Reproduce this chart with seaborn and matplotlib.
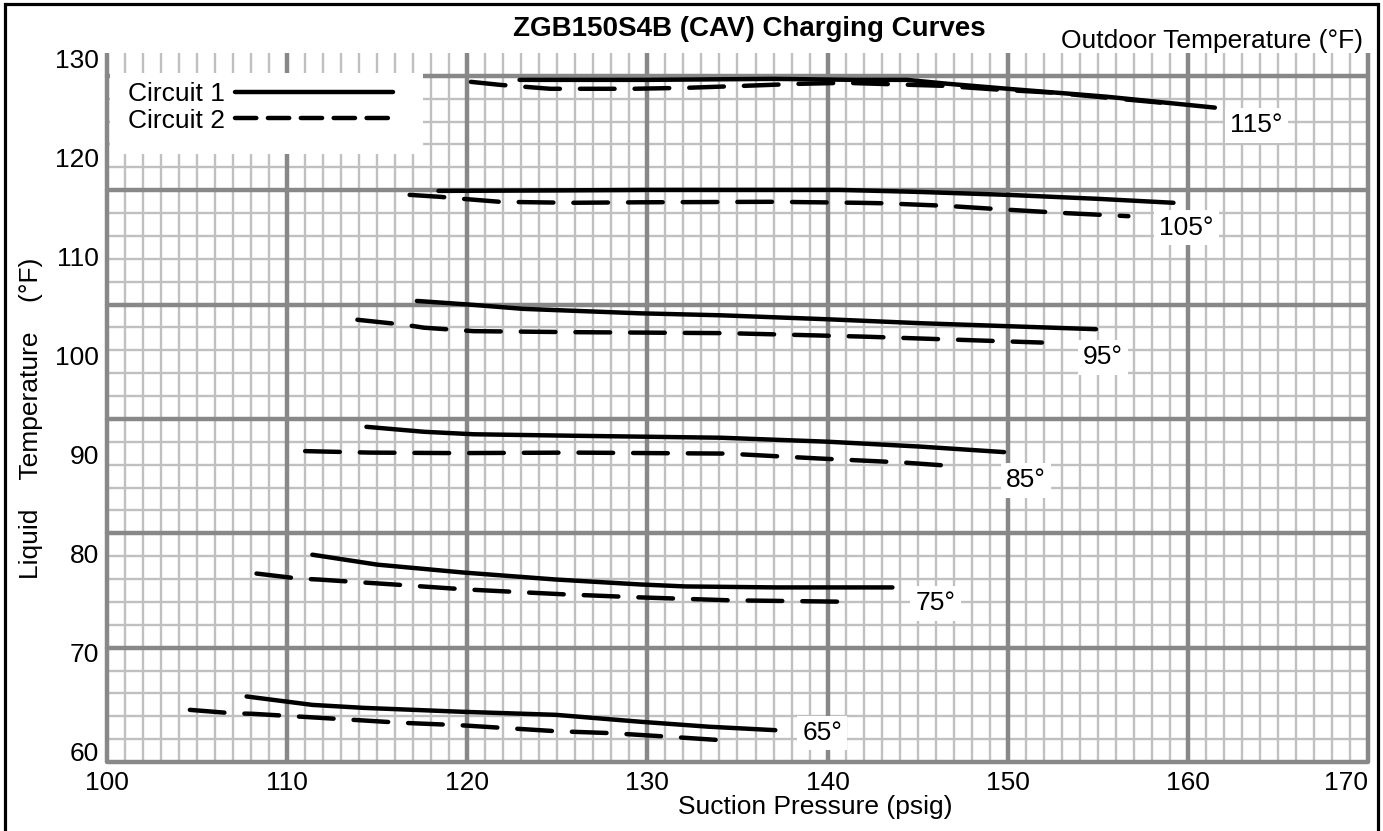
import matplotlib
matplotlib.use("Agg")
import matplotlib.pyplot as plt
from matplotlib.lines import Line2D
from matplotlib.patches import Rectangle
import seaborn as sns

# outdoor temperature for each pair of curves
outdoor = [115, 105, 95, 85, 75, 65]

# suction pressure (psig) / liquid temperature (F)
p115_c1 = [122.9, 130.0, 137.0, 141.5, 144.4, 146.7, 150.0, 155.5, 161.5]
t115_c1 = [127.8, 127.8, 127.9, 127.8, 127.8, 127.4, 126.9, 126.1, 125.0]
p115_c2 = [120.2, 121.8, 124.6, 127.2, 129.2, 132.2, 135.4, 138.4, 141.0, 146.4, 149.6, 152.6, 155.5, 158.5]
t115_c2 = [127.6, 127.3, 126.9, 126.9, 126.9, 127.0, 127.2, 127.4, 127.5, 127.2, 126.8, 126.5, 126.0, 125.5]

p105_c1 = [118.4, 125.0, 130.0, 135.0, 140.7, 145.0, 150.0, 155.0, 159.2]
t105_c1 = [116.6, 116.65, 116.7, 116.7, 116.7, 116.5, 116.2, 115.8, 115.4]
p105_c2 = [116.8, 118.5, 119.4, 121.8, 125.7, 129.6, 137.0, 141.7, 143.1, 146.5, 150.0, 153.3, 156.7]
t105_c2 = [116.2, 116.0, 115.85, 115.5, 115.4, 115.45, 115.5, 115.4, 115.35, 115.1, 114.7, 114.35, 114.05]

p95_c1 = [117.2, 120.35, 123.1, 129.6, 134.1, 140.0, 145.2, 154.9]
t95_c1 = [105.5, 105.1, 104.7, 104.25, 104.05, 103.65, 103.25, 102.65]
p95_c2 = [113.9, 116.5, 117.6, 120.35, 125.9, 134.4, 142.0, 151.9]
t95_c2 = [103.6, 103.1, 102.8, 102.45, 102.35, 102.25, 101.9, 101.3]

p85_c1 = [114.4, 117.6, 120.35, 125.9, 134.1, 140.0, 145.2, 149.8]
t85_c1 = [92.8, 92.3, 92.05, 91.9, 91.7, 91.3, 90.8, 90.25]
p85_c2 = [111.0, 114.6, 119.4, 125.9, 134.4, 139.6, 144.2, 147.3]
t85_c2 = [90.35, 90.2, 90.15, 90.2, 90.1, 89.6, 89.2, 88.8]

p75_c1 = [111.4, 115.0, 119.8, 124.9, 129.6, 132.1, 137.2, 143.6]
t75_c1 = [79.9, 78.9, 78.1, 77.4, 76.9, 76.7, 76.6, 76.6]
p75_c2 = [108.3, 110.6, 111.7, 115.9, 119.9, 125.4, 129.5, 134.6, 141.3]
t75_c2 = [78.0, 77.5, 77.4, 76.9, 76.4, 75.9, 75.6, 75.3, 75.15]

p65_c1 = [107.75, 111.4, 114.25, 119.8, 124.9, 129.6, 133.4, 137.1]
t65_c1 = [65.6, 64.75, 64.45, 64.05, 63.75, 63.05, 62.55, 62.2]
p65_c2 = [104.6, 107.0, 108.1, 112.7, 116.3, 119.6, 124.9, 128.0, 131.1, 134.0]
t65_c2 = [64.25, 63.9, 63.85, 63.35, 62.95, 62.7, 62.1, 61.9, 61.55, 61.2]

circuit1 = [(p115_c1, t115_c1), (p105_c1, t105_c1), (p95_c1, t95_c1),
            (p85_c1, t85_c1), (p75_c1, t75_c1), (p65_c1, t65_c1)]
circuit2 = [(p115_c2, t115_c2), (p105_c2, t105_c2), (p95_c2, t95_c2),
            (p85_c2, t85_c2), (p75_c2, t75_c2), (p65_c2, t65_c2)]

# where the outdoor temperature tags sit
tag_x = [163.8, 159.9, 155.3, 151.0, 146.0, 139.7]
tag_y = [123.2, 112.9, 99.8, 87.4, 75.0, 61.9]

x_ticks = list(range(100, 171, 10))
y_ticks = list(range(60, 131, 10))

sns.set_style("white")
plt.rcParams["font.family"] = ["Liberation Sans", "DejaVu Sans"]
plt.rcParams.update({"text.color": "black", "axes.labelcolor": "black",
                     "xtick.color": "black", "ytick.color": "black"})

W, H = 1383, 831
fig = plt.figure(figsize=(W / 100, H / 100), dpi=100)
pos = [107 / W, 1 - 762 / H, (1368 - 107) / W, (762 - 53) / H]

# graph-paper background (its own scale: 31 cells high, majors every 5)
grid_ax = fig.add_axes(pos)
grid_ax.set_xlim(100, 170)
grid_ax.set_ylim(0, 31)
minor_c, major_c = "#c0c0c0", "#888888"
for v in range(100, 171):
    if v % 10:
        grid_ax.axvline(v, color=minor_c, lw=1.7, zorder=1)
for v in range(0, 31):
    if v % 5:
        grid_ax.axhline(v, color=minor_c, lw=1.7, zorder=1)
for v in range(100, 171, 10):
    grid_ax.axvline(v, color=major_c, lw=3.2, zorder=2, clip_on=False, solid_capstyle="butt")
for v in range(0, 31, 5):
    grid_ax.axhline(v, color=major_c, lw=3.2, zorder=2, clip_on=False)
grid_ax.set_xticks([])
grid_ax.set_yticks([])
for s in grid_ax.spines.values():
    s.set_visible(False)

# data axes on top
ax = fig.add_axes(pos)
ax.patch.set_visible(False)
for s in ax.spines.values():
    s.set_visible(False)

dash = (0, (7.8, 4.5))
for p, t in circuit1:
    sns.lineplot(x=p, y=t, ax=ax, color="black", lw=3.2, solid_capstyle="round")
for p, t in circuit2:
    sns.lineplot(x=p, y=t, ax=ax, color="black", lw=3.2, linestyle=dash,
                 dash_capstyle="round")

for temp, x, y in zip(outdoor, tag_x, tag_y):
    ax.text(x, y, f"{temp}°", ha="center", va="center", fontsize=19,
            bbox=dict(boxstyle="square,pad=0.2", fc="white", ec="none"))

ax.set_xlim(100, 170)
ax.set_ylim(58.99, 130.51)
ax.set_xticks(x_ticks)
ax.set_yticks(y_ticks)
ax.tick_params(axis="both", length=0, labelsize=19)
ax.tick_params(axis="x", pad=6.5)
ax.tick_params(axis="y", pad=5.8)
ax.get_xticklabels()[-1].set_ha("right")

ax.set_xlabel("Suction Pressure (psig)", fontsize=19)
ax.xaxis.set_label_coords((815 - 107) / 1261, -(795 - 762) / 709)
ax.set_ylabel("Liquid    Temperature    (°F)", fontsize=19)
ax.yaxis.set_label_coords((43 - 107) / 1261, (762 - 418) / 709)

# legend on a white patch
ax.add_patch(Rectangle(((110 - 107) / 1261, (762 - 154) / 709),
                       (423 - 110) / 1261, (154 - 73) / 709,
                       transform=ax.transAxes, fc="white", ec="none", zorder=3))
handles = [Line2D([], [], color="black", lw=3.2, solid_capstyle="round"),
           Line2D([], [], color="black", lw=3.2, linestyle=(0, (4.8, 2.6)),
                  dash_capstyle="round")]
leg = ax.legend(handles, ["Circuit 1", "Circuit 2"], loc="upper left",
                bbox_to_anchor=((128 - 107) / 1261, (762 - 82) / 709),
                markerfirst=False, frameon=False, fontsize=19, borderpad=0,
                borderaxespad=0, handlelength=6.0, handletextpad=0.38,
                labelspacing=0.1)
leg.set_zorder(4)

fig.text(749 / W, 1 - 29 / H, "ZGB150S4B (CAV) Charging Curves", ha="center",
         va="center", fontsize=20, fontweight="bold")
fig.text(1363 / W, 1 - 41 / H, "Outdoor Temperature (°F)", ha="right",
         va="center", fontsize=19)

fig.add_artist(Rectangle((5 / W, -0.05), (1378 - 5) / W, 1.05 - 4 / H,
                         transform=fig.transFigure, fill=False, ec="black", lw=2.3))

fig.savefig("out.png", dpi=100)
